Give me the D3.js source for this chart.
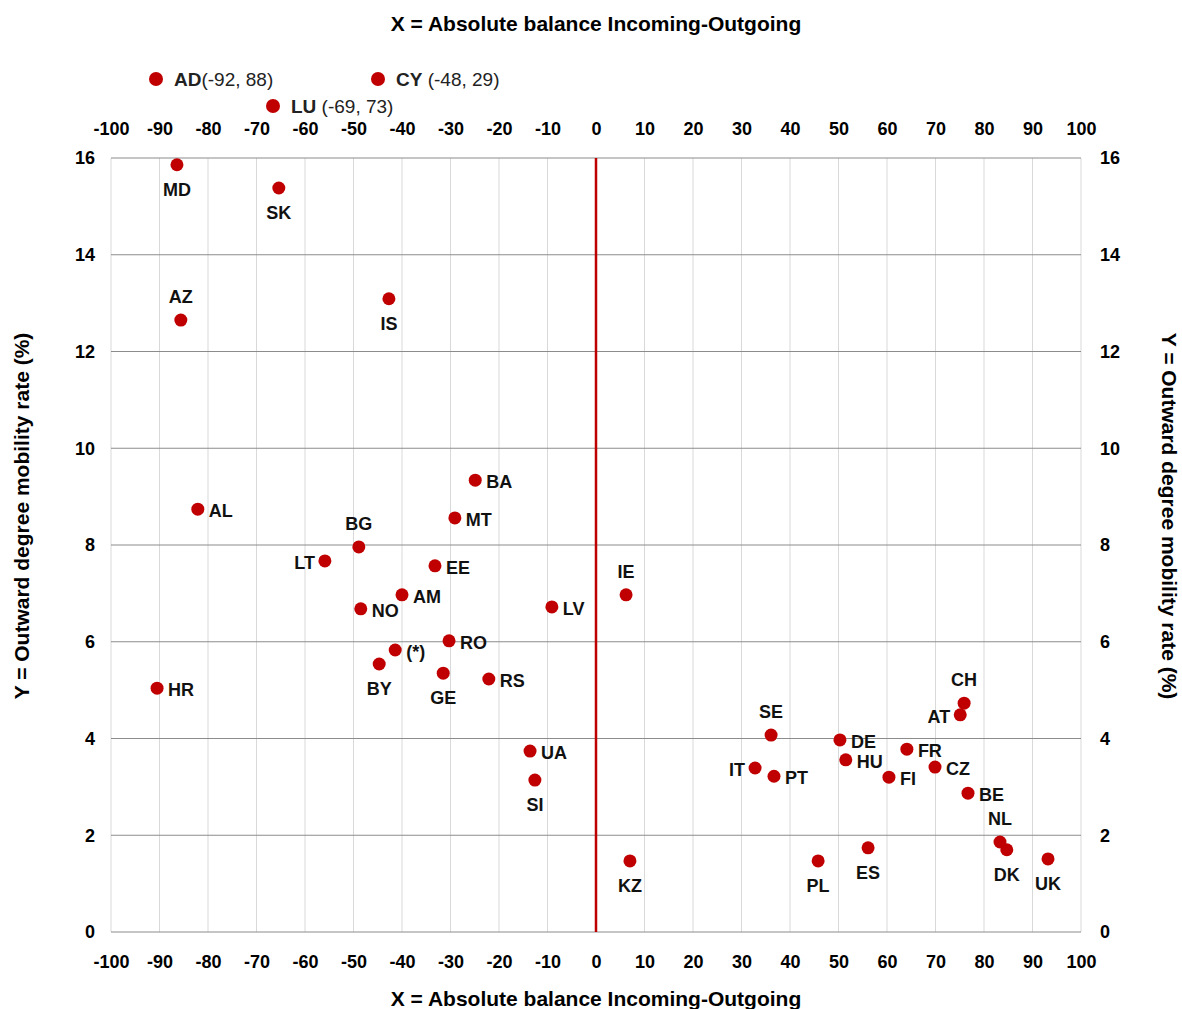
<!DOCTYPE html>
<html><head><meta charset="utf-8">
<script src="https://cdn.jsdelivr.net/npm/d3@7"></script>
<style>
body{margin:0;background:#fff;}
text{font-family:"Liberation Sans",Arial,sans-serif;}
</style></head>
<body><svg id="c" width="1182" height="1009"></svg>
<script>
// Data
const countries = ["MD","SK","AZ","IS","AL","BA","MT","BG","LT","EE","AM","NO","LV","IE","RO","(*)","BY","GE","RS","HR","UA","SI","KZ","SE","DE","HU","IT","PT","FR","FI","CZ","CH","AT","BE","NL","DK","UK","PL","ES"];
const xValues = [-86.4,-65.4,-85.6,-42.7,-82.1,-24.9,-29.1,-48.9,-55.9,-33.2,-40.0,-48.5,-9.1,6.2,-30.3,-41.4,-44.7,-31.5,-22.1,-90.5,-13.6,-12.6,7.0,36.1,50.3,51.5,32.8,36.7,64.1,60.4,69.9,75.9,75.1,76.7,83.3,84.7,93.2,45.8,56.1];
const yValues = [15.86,15.38,12.65,13.09,8.74,9.34,8.56,7.96,7.67,7.57,6.97,6.68,6.72,6.97,6.02,5.83,5.54,5.35,5.23,5.04,3.74,3.14,1.47,4.07,3.97,3.56,3.39,3.22,3.78,3.20,3.41,4.73,4.49,2.87,1.86,1.70,1.51,1.47,1.74];
const labelSide = ["b","b","t","b","r","r","r","t","l","r","r","r","r","t","r","r","b","b","r","r","r","b","b","t","r","r","l","r","r","r","r","t","l","r","t","b","b","b","b"];
const outlierNames = ["AD","CY","LU"];
const outlierCoords = ["(-92, 88)","(-48, 29)","(-69, 73)"];
const xTicks = d3.range(-100,101,10);
const yTicks = d3.range(0,17,2);
const xTitle = "X = Absolute balance Incoming-Outgoing";
const yTitle = "Y = Outward degree mobility rate (%)";

const svg = d3.select("#c");
const L=111,R=1081,T=158,B=932;
const x = d3.scaleLinear().domain([-100,100]).range([L,R]);
const y = d3.scaleLinear().domain([0,16]).range([B,T]);
const red="#c00000";
const fmt = d => String(d);

// vertical grid
svg.append("g").selectAll("line").data(xTicks).join("line")
  .attr("x1",d=>x(d)).attr("x2",d=>x(d)).attr("y1",T).attr("y2",B)
  .attr("stroke","#d9d9d9").attr("stroke-width",1);
// horizontal grid
svg.append("g").selectAll("line").data(yTicks).join("line")
  .attr("x1",L).attr("x2",R).attr("y1",d=>y(d)).attr("y2",d=>y(d))
  .attr("stroke","#8c8c8c").attr("stroke-width",1.2);
// zero line
svg.append("line").attr("x1",x(0)).attr("x2",x(0)).attr("y1",T).attr("y2",B)
  .attr("stroke",red).attr("stroke-width",2.5);

// axes
function styleAxis(g){
  g.select(".domain").remove();
  g.selectAll(".tick line").remove();
  g.selectAll("text").attr("font-size",18).attr("font-weight","bold").attr("fill","#000")
   .attr("font-family","Liberation Sans, Arial, sans-serif");
}
svg.append("g").attr("transform",`translate(0,${T-23})`)
  .call(d3.axisTop(x).tickValues(xTicks).tickFormat(fmt).tickSize(0).tickPadding(0)).call(styleAxis)
  .selectAll("text").attr("dy","0");
svg.append("g").attr("transform",`translate(0,${B+23})`)
  .call(d3.axisBottom(x).tickValues(xTicks).tickFormat(fmt).tickSize(0).tickPadding(0)).call(styleAxis)
  .selectAll("text").attr("dy","0.71em");
svg.append("g").attr("transform",`translate(${L-16},0)`)
  .call(d3.axisLeft(y).tickValues(yTicks).tickFormat(fmt).tickSize(0).tickPadding(0)).call(styleAxis);
svg.append("g").attr("transform",`translate(${R+19},0)`)
  .call(d3.axisRight(y).tickValues(yTicks).tickFormat(fmt).tickSize(0).tickPadding(0)).call(styleAxis);

// titles
svg.append("text").attr("x",596).attr("y",31).attr("text-anchor","middle")
  .attr("font-size",21).attr("font-weight","bold").text(xTitle);
svg.append("text").attr("x",596).attr("y",1006).attr("text-anchor","middle")
  .attr("font-size",21).attr("font-weight","bold").text(xTitle);
svg.append("text").attr("transform","translate(29,516) rotate(-90)").attr("text-anchor","middle")
  .attr("font-size",21).attr("font-weight","bold").text(yTitle);
svg.append("text").attr("transform","translate(1162,516) rotate(90)").attr("text-anchor","middle")
  .attr("font-size",21).attr("font-weight","bold").text(yTitle);

// points
const pts = countries.map((c,i)=>({c,x:xValues[i],y:yValues[i],s:labelSide[i]}));
svg.append("g").selectAll("circle").data(pts).join("circle")
  .attr("cx",d=>x(d.x)).attr("cy",d=>y(d.y)).attr("r",6.5).attr("fill",red);
svg.append("g").selectAll("text").data(pts).join("text")
  .attr("font-size",18).attr("font-weight","bold").attr("fill","#111")
  .attr("x",d=>{const px=x(d.x); return d.s==="r"?px+11:d.s==="l"?px-10:px;})
  .attr("y",d=>{const py=y(d.y); return d.s==="t"?py-17:d.s==="b"?py+31:py+8;})
  .attr("text-anchor",d=>d.s==="r"?"start":d.s==="l"?"end":"middle")
  .text(d=>d.c);

// outlier legend (off-chart values)
const legPos=[[156,79],[378,79],[273,106]];
const lg = svg.append("g").selectAll("g").data(outlierNames.map((n,i)=>({n,c:outlierCoords[i],p:legPos[i]})))
  .join("g").attr("transform",d=>`translate(${d.p[0]},${d.p[1]})`);
lg.append("circle").attr("r",7).attr("fill",red);
const lt = lg.append("text").attr("x",18).attr("y",7).attr("font-size",19).attr("fill","#222");
lt.append("tspan").attr("font-weight","bold").text(d=>d.n);
lt.append("tspan").text((d,i)=>(i===0?"":" ")+d.c);
</script></body></html>
